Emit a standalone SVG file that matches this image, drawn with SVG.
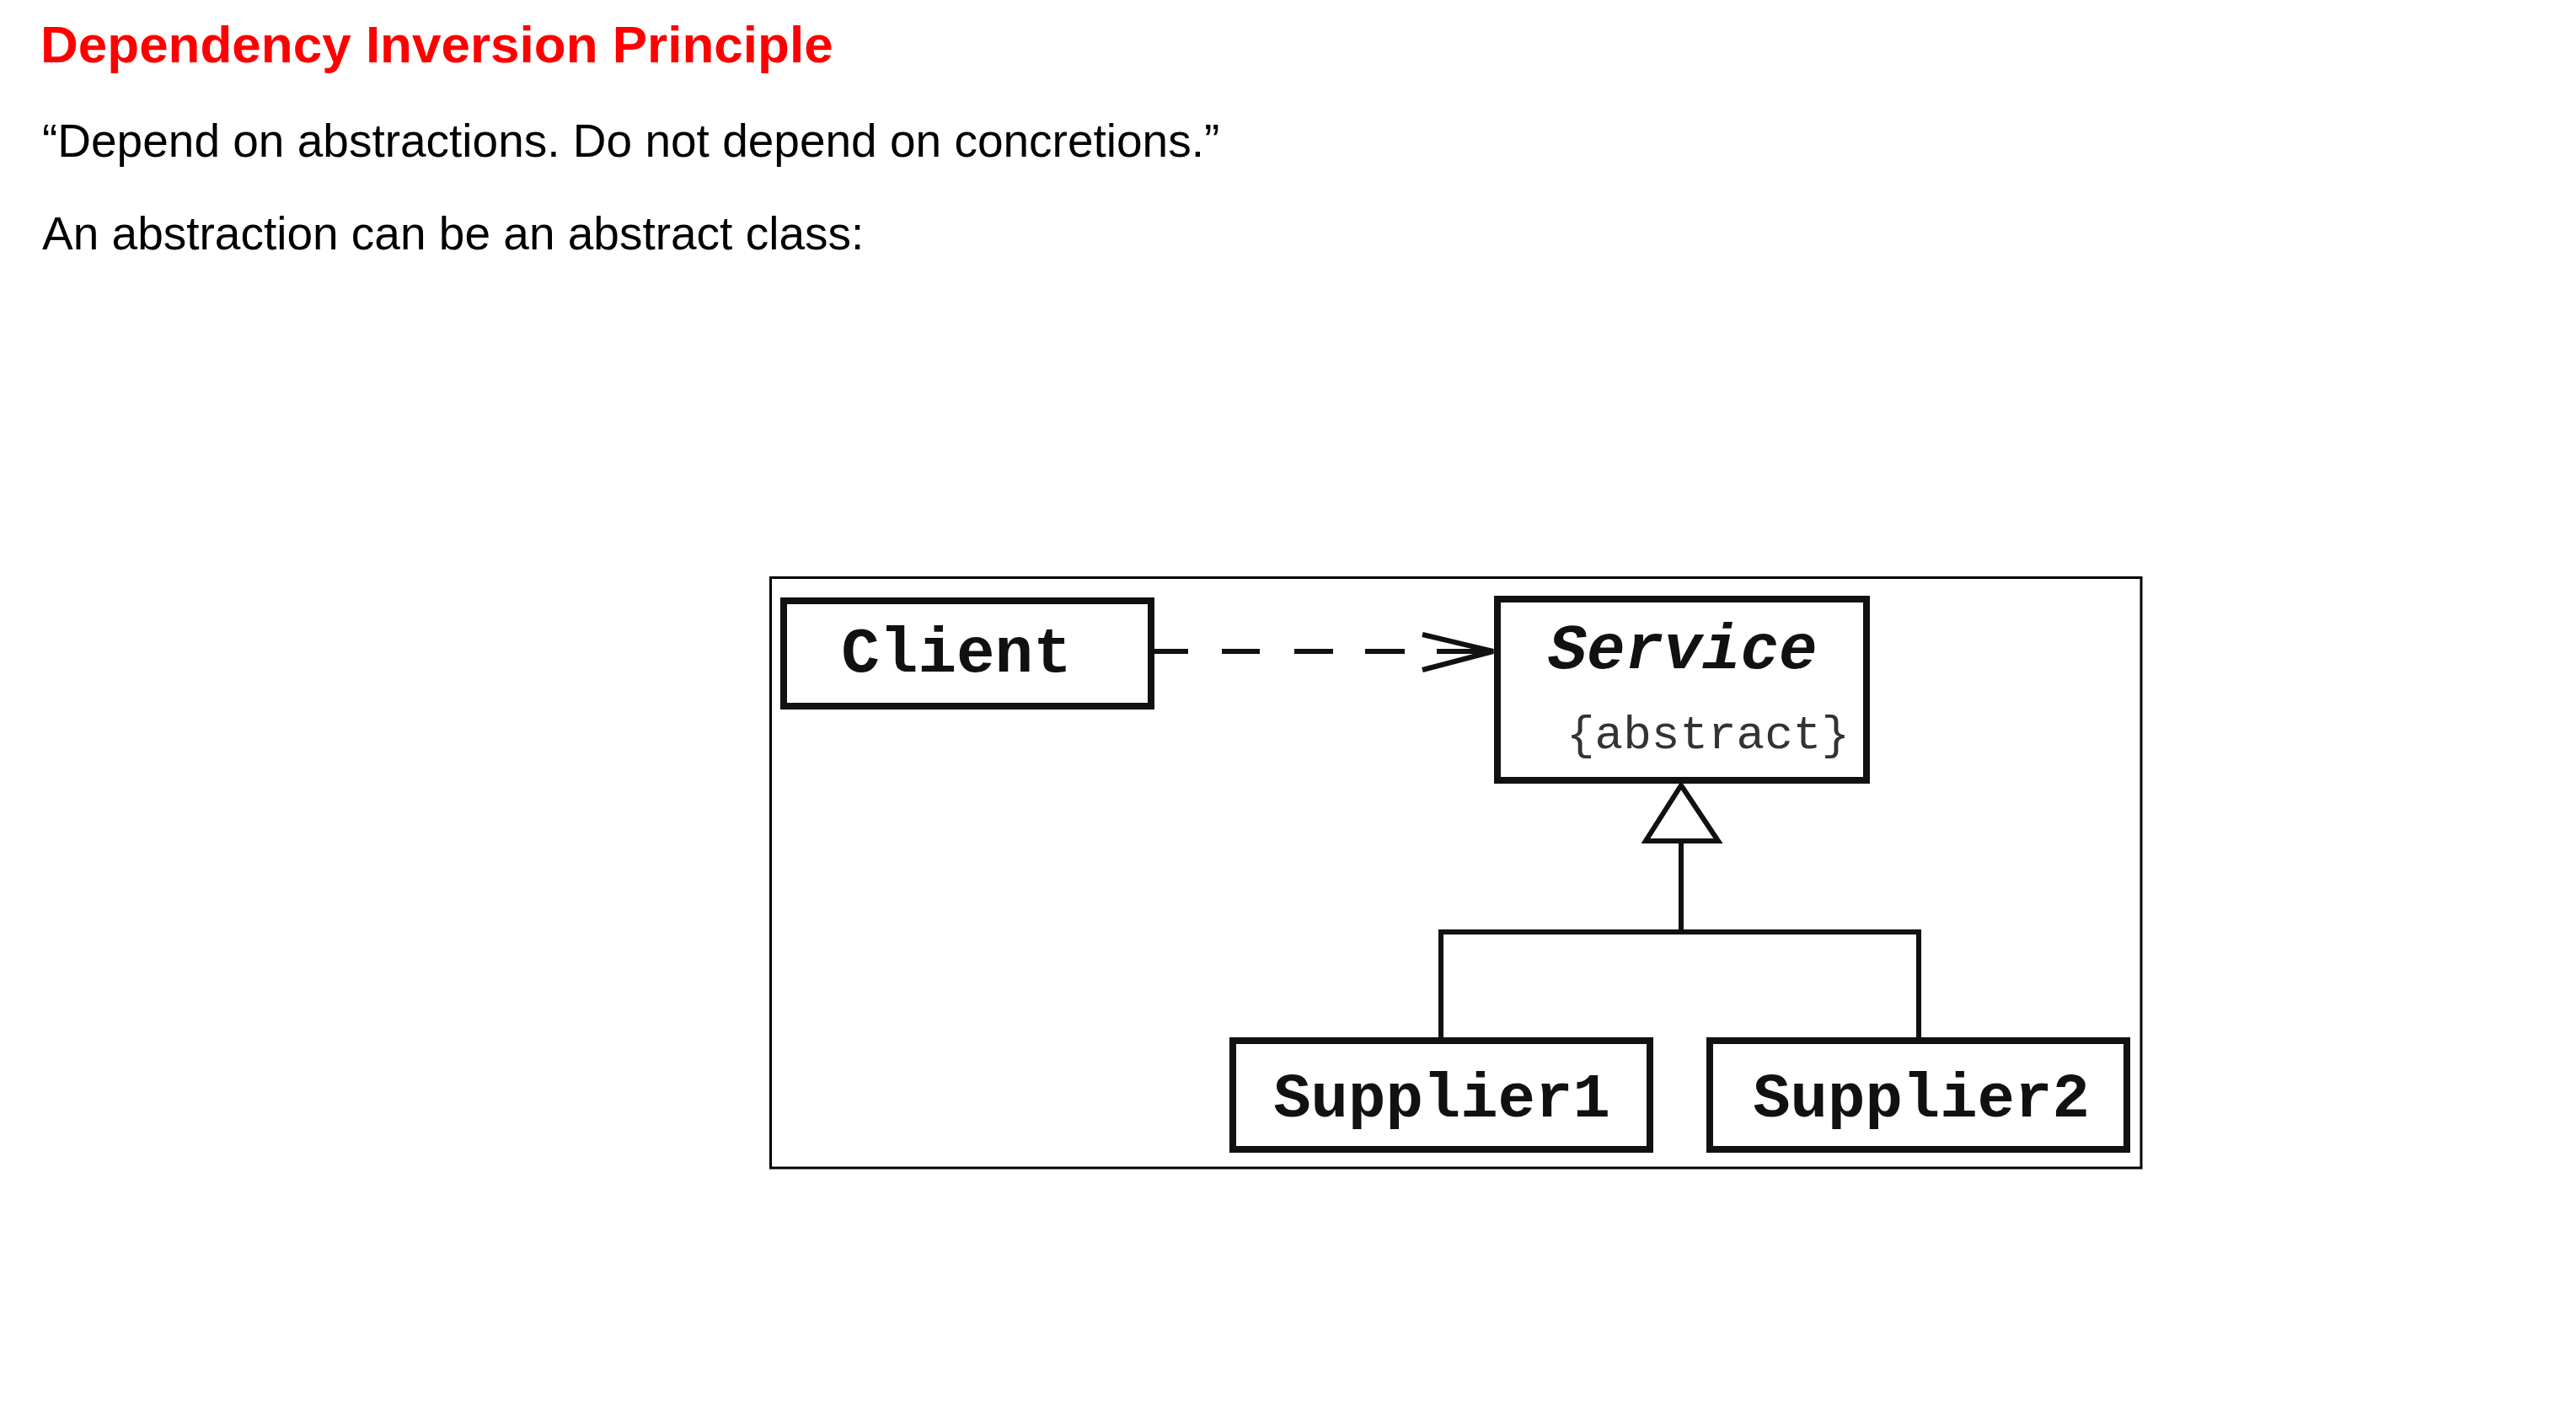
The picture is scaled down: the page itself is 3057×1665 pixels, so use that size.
<svg xmlns="http://www.w3.org/2000/svg" width="3057" height="1665" viewBox="0 0 3057 1665">
  <style>
    .title { font-family: "Liberation Sans", Arial, sans-serif; font-weight: bold; font-size: 62px; fill: #ff0000; }
    .body { font-family: "Liberation Sans", Arial, sans-serif; font-size: 55px; fill: #000; }
    .box { fill: #fff; stroke: #111; stroke-width: 8; }
    .name { font-family: "Liberation Mono", "Courier New", monospace; font-weight: bold; font-size: 76px; fill: #111; text-anchor: middle; }
    .sup { font-size: 74px; }
    .italic { font-style: italic; }
    .prop { font-family: "Liberation Mono", "Courier New", monospace; font-size: 56px; fill: #333; text-anchor: middle; }
    .line { fill: none; stroke: #111; stroke-width: 6; }
    .frame { fill: none; stroke: #000; stroke-width: 3; }
  </style>
  <rect width="3057" height="1665" fill="#fff"/>
  <text class="title" x="48" y="74">Dependency Inversion Principle</text>
  <text class="body" x="50" y="186">“Depend on abstractions. Do not depend on concretions.”</text>
  <text class="body" x="50" y="296">An abstraction can be an abstract class:</text>

  <rect class="frame" x="914.5" y="685.5" width="1626.5" height="700.5"/>

  <g id="connectors">
    <path class="line" d="M1370 773 H1772" stroke-dasharray="40 40 45 41 46 38 47 38 70"/>
    <path class="line" stroke-width="5" d="M1688 753 L1772 773 L1688 795"/>
    <path class="line" stroke-width="4.5" d="M1995 998 V1106"/>
    <path class="line" d="M1710 1232 V1106 H2277 V1232"/>
    <path fill="#fff" stroke="#111" stroke-width="6" stroke-linejoin="miter" d="M1995 932 L2039 998 L1953 998 Z"/>
  </g>

  <g id="client">
    <rect class="box" x="930" y="713" width="436" height="125"/>
    <text class="name" x="1135" y="797">Client</text>
  </g>
  <g id="service">
    <rect class="box" x="1777" y="711" width="438" height="215"/>
    <text class="name italic" x="1997" y="793">Service</text>
    <text class="prop" x="2027" y="888">{abstract}</text>
  </g>
  <g id="supplier1">
    <rect class="box" x="1463" y="1235" width="495" height="129"/>
    <text class="name sup" x="1711" y="1325">Supplier1</text>
  </g>
  <g id="supplier2">
    <rect class="box" x="2029" y="1235" width="495" height="129"/>
    <text class="name sup" x="2280" y="1325">Supplier2</text>
  </g>
</svg>
